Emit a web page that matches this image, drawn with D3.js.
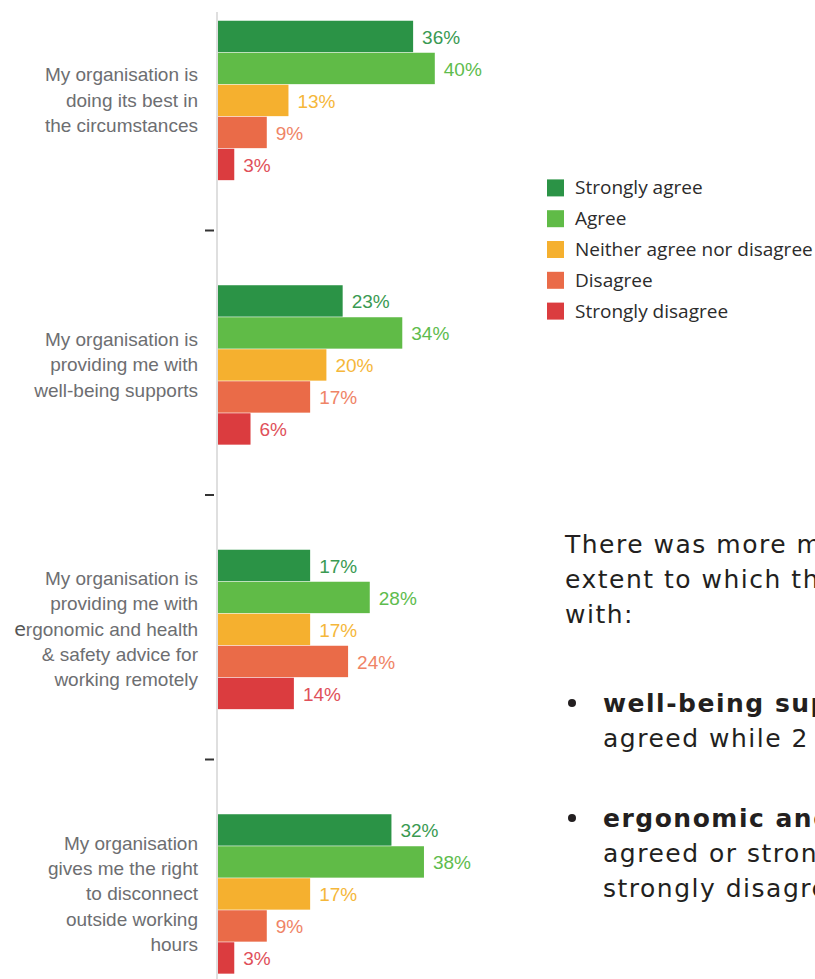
<!DOCTYPE html>
<html>
<head>
<meta charset="utf-8">
<script src="https://cdn.jsdelivr.net/npm/d3@7"></script>
<style>
  body { margin: 0; background: #fff; }
  svg { display: block; }
</style>
</head>
<body>
<svg id="chart" width="815" height="979"></svg>
<script>
// --- data ---
const categories = ["best", "wellbeing", "ergonomic", "disconnect"];
const categoryLines = [
  ["My organisation is", "doing its best in", "the circumstances"],
  ["My organisation is", "providing me with", "well-being supports"],
  ["My organisation is", "providing me with", "ergonomic and health", "& safety advice for", "working remotely"],
  ["My organisation", "gives me the right", "to disconnect", "outside working", "hours"]
];
const seriesNames = ["Strongly agree", "Agree", "Neither agree nor disagree", "Disagree", "Strongly disagree"];
const stronglyAgree = [36, 23, 17, 32];
const agree = [40, 34, 28, 38];
const neither = [13, 20, 17, 17];
const disagree = [9, 17, 24, 9];
const stronglyDisagree = [3, 6, 14, 3];

const barColors = ["#2b9346", "#60bb47", "#f5b02f", "#ea6b48", "#db3c3f"];
const labelColors = ["#3a9a52", "#5ebc4d", "#f5b73a", "#ef8466", "#e0505a"];

const seriesValues = [stronglyAgree, agree, neither, disagree, stronglyDisagree];

const rows = [];
categories.forEach((c, i) => {
  seriesNames.forEach((s, j) => {
    rows.push({ cat: c, series: s, value: seriesValues[j][i] });
  });
});

// --- scales ---
const svg = d3.select("#chart");
const fontChart = "'Liberation Sans', Arial, sans-serif";

const x = d3.scaleLinear().domain([0, 100]).range([218, 760]);

const y = d3.scaleBand()
  .domain(categories)
  .range([-31.5, 1026.5])
  .paddingInner(0.395)
  .paddingOuter(0.1975);

const ySub = d3.scaleBand()
  .domain(seriesNames)
  .range([0, y.bandwidth()]);

const color = d3.scaleOrdinal().domain(seriesNames).range(barColors);
const labelColor = d3.scaleOrdinal().domain(seriesNames).range(labelColors);

// --- axis line + ticks between groups ---
svg.append("line")
  .attr("x1", 217).attr("x2", 217)
  .attr("y1", 12).attr("y2", 979)
  .attr("stroke", "#d4d4d4")
  .attr("stroke-width", 1.5);

const boundaries = categories.slice(0, -1).map(c => y(c) + y.bandwidth() + y.step() * y.paddingInner() / 2 - 2.5);
svg.append("g")
  .selectAll("line")
  .data(boundaries)
  .join("line")
  .attr("x1", 205).attr("x2", 214)
  .attr("y1", d => d).attr("y2", d => d)
  .attr("stroke", "#333")
  .attr("stroke-width", 2);

// --- bars ---
svg.append("g")
  .selectAll("rect")
  .data(rows)
  .join("rect")
  .attr("x", x(0))
  .attr("y", d => y(d.cat) + ySub(d.series))
  .attr("width", d => x(d.value) - x(0))
  .attr("height", ySub.bandwidth() - 0.6)
  .attr("fill", d => color(d.series));

// --- value labels ---
svg.append("g")
  .selectAll("text")
  .data(rows)
  .join("text")
  .attr("x", d => x(d.value) + 9)
  .attr("y", d => y(d.cat) + ySub(d.series) + ySub.bandwidth() / 2 + 7)
  .attr("font-family", fontChart)
  .attr("font-size", 19)
  .attr("fill", d => labelColor(d.series))
  .text(d => d.value + "%");

// --- category labels ---
const catG = svg.append("g")
  .attr("font-family", fontChart)
  .attr("font-size", 19)
  .attr("fill", "#6d6e71")
  .attr("text-anchor", "end");

categories.forEach((c, i) => {
  const lines = categoryLines[i];
  const mid = y(c) + y.bandwidth() / 2;
  const lh = 25.3;
  const t = catG.append("text");
  lines.forEach((line, k) => {
    const ts = t.append("tspan")
      .attr("x", 198)
      .attr("y", mid + 6 + (k - (lines.length - 1) / 2) * lh);
    if (line.startsWith("ergonomic")) {
      // first letter is set in a different face in the original
      ts.append("tspan").attr("font-family", "'DejaVu Sans', sans-serif").attr("font-size", 19).attr("fill", "#555").text("e");
      ts.append("tspan").text(line.slice(1));
    } else {
      ts.text(line);
    }
  });
});

// --- legend ---
const legY = d3.scaleBand().domain(seriesNames).range([172.5, 326.5]);
const leg = svg.append("g");
leg.selectAll("rect")
  .data(seriesNames)
  .join("rect")
  .attr("x", 547)
  .attr("y", d => legY(d) + (legY.bandwidth() - 17) / 2)
  .attr("width", 17)
  .attr("height", 17)
  .attr("fill", d => color(d));
leg.selectAll("text")
  .data(seriesNames)
  .join("text")
  .attr("x", 575)
  .attr("y", d => legY(d) + legY.bandwidth() / 2 + 6.5)
  .attr("font-family", "'Open Sans', sans-serif")
  .attr("font-size", 19)
  .attr("fill", "#2b2b2b")
  .text(d => d);

// --- commentary text (runs off the right edge, as in the source) ---
const noteFont = "'DejaVu Sans', sans-serif";
const note = svg.append("g")
  .attr("font-family", noteFont)
  .attr("font-size", 25)
  .attr("letter-spacing", 1.5)
  .attr("fill", "#231f20");

const noteLines = [
  { x: 565, y: 553, parts: [["There was more m", false]] },
  { x: 565, y: 588, parts: [["extent to which th", false]] },
  { x: 565, y: 623, parts: [["with:", false]] },
  { x: 603, y: 712, parts: [["well-being sup", true]] },
  { x: 603, y: 747, parts: [["agreed while 2", false]] },
  { x: 603, y: 827, parts: [["ergonomic and", true]] },
  { x: 603, y: 862, parts: [["agreed or stron", false]] },
  { x: 603, y: 897, parts: [["strongly disagre", false]] }
];
noteLines.forEach(l => {
  const t = note.append("text").attr("x", l.x).attr("y", l.y);
  l.parts.forEach(p => t.append("tspan").attr("font-weight", p[1] ? "bold" : "normal").text(p[0]));
});
note.selectAll("circle")
  .data([703, 818])
  .join("circle")
  .attr("cx", 572)
  .attr("cy", d => d)
  .attr("r", 4)
  .attr("fill", "#231f20");
</script>
</body>
</html>
